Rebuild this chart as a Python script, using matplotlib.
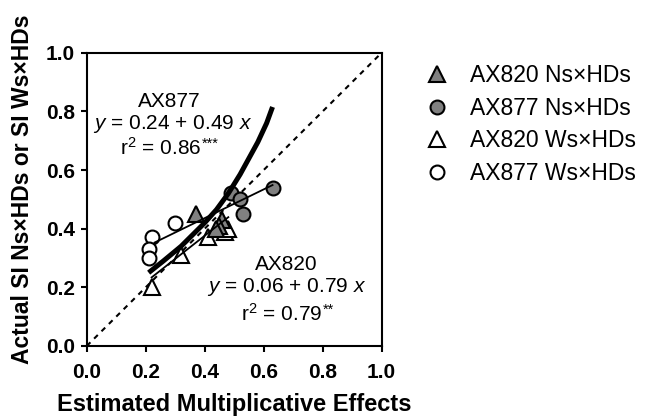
import matplotlib
matplotlib.use("Agg")
import matplotlib.pyplot as plt
from matplotlib.lines import Line2D

plt.rcParams['font.family'] = ['Liberation Sans', 'DejaVu Sans']
plt.rcParams['mathtext.fontset'] = 'custom'
plt.rcParams['mathtext.rm'] = 'Liberation Sans'
plt.rcParams['mathtext.it'] = 'Liberation Sans:italic'
plt.rcParams['mathtext.bf'] = 'Liberation Sans:bold'

# Data
ax820_ns_x = [0.37, 0.46, 0.45, 0.44]
ax820_ns_y = [0.45, 0.43, 0.41, 0.40]
ax877_ns_x = [0.49, 0.52, 0.53, 0.63]
ax877_ns_y = [0.52, 0.50, 0.45, 0.54]
ax820_ws_x = [0.22, 0.32, 0.41, 0.47, 0.48]
ax820_ws_y = [0.20, 0.31, 0.37, 0.39, 0.40]
ax877_ws_x = [0.22, 0.21, 0.21, 0.30]
ax877_ws_y = [0.37, 0.33, 0.30, 0.42]

# regression lines
ax877_fit = (0.24, 0.49, 0.23, 0.63)   # intercept, slope, xmin, xmax
ax820_fit = (0.06, 0.79, 0.22, 0.48)

# thick curve
curve_x = [0.21, 0.26, 0.32, 0.35, 0.40, 0.44, 0.48, 0.52, 0.55, 0.58, 0.61, 0.63]
curve_y = [0.25, 0.29, 0.34, 0.37, 0.42, 0.465, 0.52, 0.585, 0.64, 0.695, 0.76, 0.815]

ticks = [0.0, 0.2, 0.4, 0.6, 0.8, 1.0]
tick_labels = ["0.0", "0.2", "0.4", "0.6", "0.8", "1.0"]

legend_labels = ["AX820 Ns×HDs", "AX877 Ns×HDs", "AX820 Ws×HDs", "AX877 Ws×HDs"]

fig = plt.figure(figsize=(6.51, 4.16), dpi=100)
ax = fig.add_axes([0.1332, 0.1683, 0.4531, 0.7050])

gray = '#808080'
ms_c = 10
ms_t = 11
mew = 1.5
ax.plot(ax820_ws_x, ax820_ws_y, '^', ms=ms_t, mfc='white', mec='black', mew=mew, zorder=2, ls='none')
ax.plot(ax877_ws_x, ax877_ws_y, 'o', ms=ms_c, mfc='white', mec='black', mew=mew, zorder=2, ls='none')
ax.plot(ax820_ns_x, ax820_ns_y, '^', ms=ms_t, mfc=gray, mec='black', mew=mew, zorder=2, ls='none')
ax.plot(ax877_ns_x, ax877_ns_y, 'o', ms=ms_c, mfc=gray, mec='black', mew=mew, zorder=2, ls='none')

for a, b, x0, x1 in (ax877_fit, ax820_fit):
    ax.plot([x0, x1], [a + b * x0, a + b * x1], color='black', lw=1.3, zorder=3)

ax.plot(curve_x, curve_y, color='black', lw=3.6, zorder=4, solid_capstyle='butt')
ax.plot([0, 1], [0, 1], color='black', lw=1.5, ls=(0, (2.5, 2.5)), zorder=1)

ax.set_xlim(0, 1)
ax.set_ylim(0, 1)
ax.set_xticks(ticks)
ax.set_xticklabels(tick_labels, fontweight='bold', fontsize=15)
ax.set_yticks(ticks)
ax.set_yticklabels(tick_labels, fontweight='bold', fontsize=15)
ax.tick_params(direction='out', length=4.5, width=1.5, top=False, right=False)
ax.tick_params(axis='x', pad=7.5)
ax.tick_params(axis='y', pad=4.0)
for s in ax.spines.values():
    s.set_linewidth(1.5)

ax.set_xlabel("Estimated Multiplicative Effects", fontweight='bold', fontsize=17)
ax.set_ylabel("Actual SI Ns×HDs or SI Ws×HDs", fontweight='bold', fontsize=16.5)
ax.xaxis.set_label_coords(0.5, -0.16)
ax.yaxis.set_label_coords(-0.18, 0.535)

fs = 15
ax.text(0.28, 0.834, "AX877", ha='center', va='center', fontsize=fs)
ax.text(0.29, 0.758, "$y$ = 0.24 + 0.49 $x$", ha='center', va='center', fontsize=fs)
t1 = ax.text(0.25, 0.676, "r$^2$ = 0.86", ha='center', va='center', fontsize=fs)
ax.annotate("***", xy=(1, 1), xycoords=t1, xytext=(0.5, 0), textcoords='offset points',
            ha='left', va='top', fontsize=10.5)
ax.text(0.675, 0.278, "AX820", ha='center', va='center', fontsize=fs)
ax.text(0.678, 0.202, "$y$ = 0.06 + 0.79 $x$", ha='center', va='center', fontsize=fs)
t2 = ax.text(0.66, 0.11, "r$^2$ = 0.79", ha='center', va='center', fontsize=fs)
ax.annotate("**", xy=(1, 1), xycoords=t2, xytext=(0.5, 0), textcoords='offset points',
            ha='left', va='top', fontsize=10.5)

handles = [
    Line2D([], [], marker='^', ls='none', ms=11.5, mfc=gray, mec='black', mew=1.5),
    Line2D([], [], marker='o', ls='none', ms=10, mfc=gray, mec='black', mew=1.5),
    Line2D([], [], marker='^', ls='none', ms=11.5, mfc='white', mec='black', mew=1.5),
    Line2D([], [], marker='o', ls='none', ms=10, mfc='white', mec='black', mew=1.5),
]
fig.legend(handles, legend_labels, loc='upper left', bbox_to_anchor=(0.653, 0.846),
           frameon=False, fontsize=16.5, handlelength=1.0, handletextpad=0.95,
           labelspacing=0.42, borderaxespad=0, borderpad=0)

fig.savefig("out.png", dpi=100)
